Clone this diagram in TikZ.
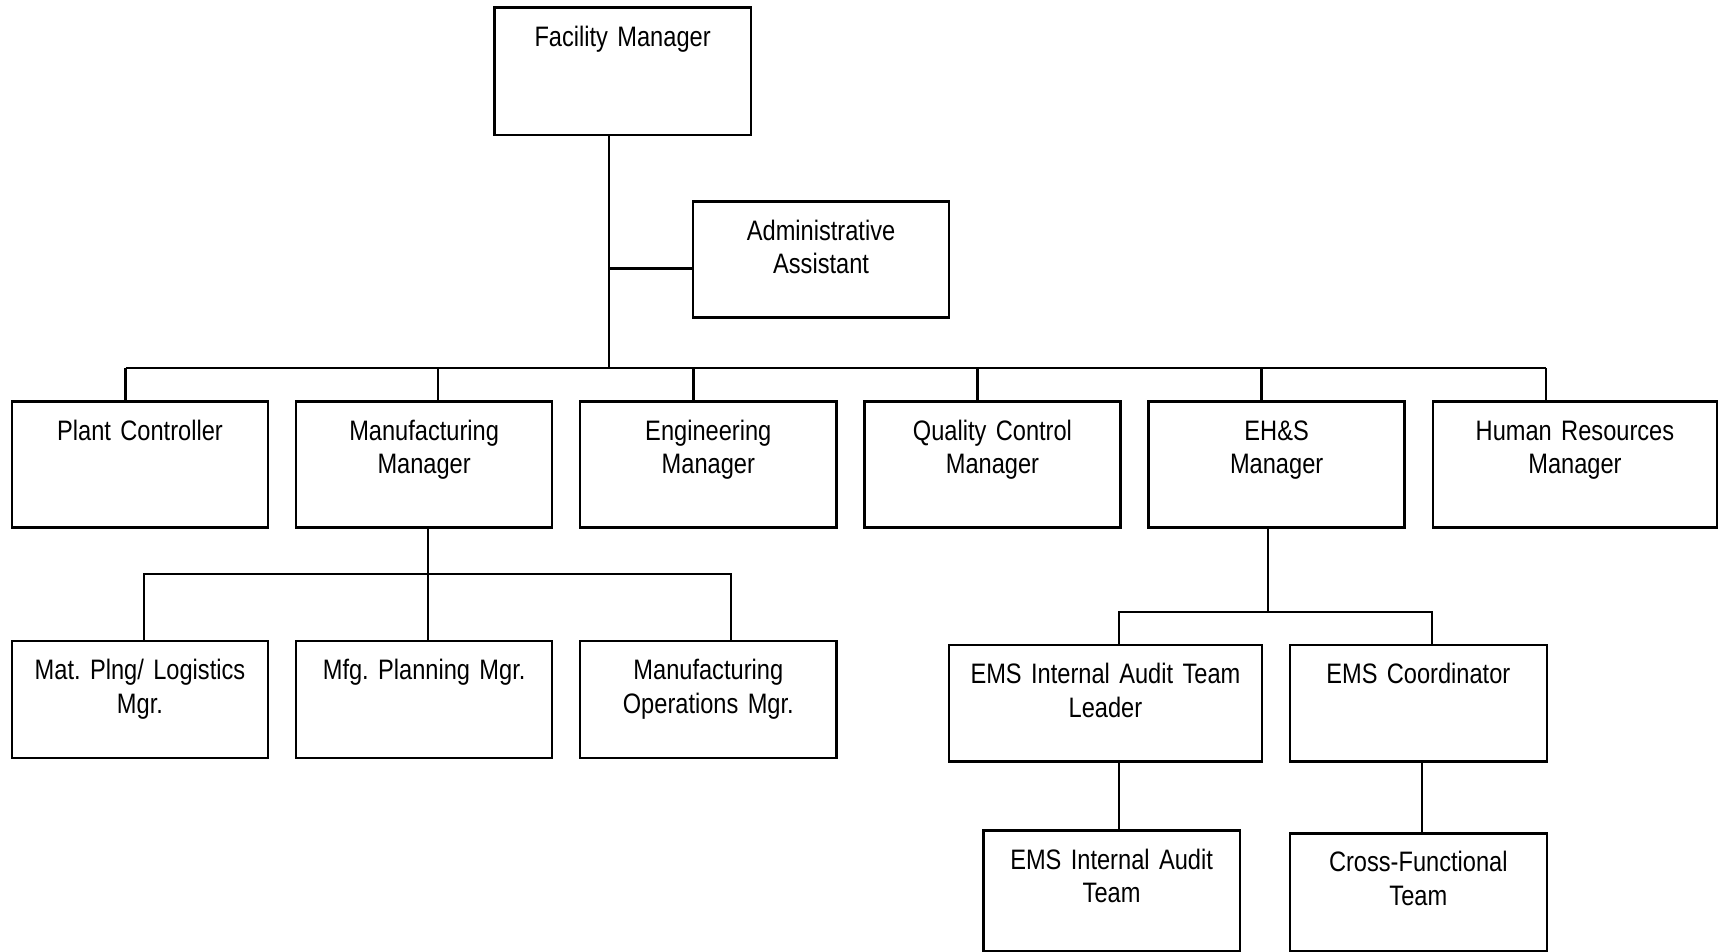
\documentclass[tikz,border=0pt]{standalone}
\usepackage{fontspec}
\setmainfont{Liberation Sans}[FakeStretch=0.84]
\usetikzlibrary{positioning}
\frenchspacing
\tikzset {
  chart path/.style = {
    draw = black,
    line width = 0.6pt
  },
  % plain connector between boxes
  link/.style = {
    chart path
  }
}
\tikzset {
  chart node/.style = {
    draw = black,
    line width = 0.7pt,
    rectangle,
    inner sep = 0,
    outer sep = 0,
    align = center,
    text height = 0.385cm,
    font = \fontsize{8pt}{9.6pt}\selectfont
  },
  % box of the manager row
  post/.style = {
    chart node,
    text width = 2.56cm,
    text depth = 0.871cm
  },
  % box below a manager
  subpost/.style = {
    chart node,
    text width = 2.56cm,
    text depth = 0.782cm
  },
  node distance = 0.28cm
}

\begin{document}
\begin{tikzpicture}[x=0.01cm, y=-0.01cm]
    \useasboundingbox (0,0) rectangle (1718,952);

    \node[chart node, text width=2.561cm, text depth=0.885cm, anchor=north west]
      (facility) at (494.5,7.7) {Facility Manager};
    \node[chart node, text width=2.56cm, text depth=0.774cm, anchor=north west]
      (admin) at (693,201.7) {Administrative\\Assistant};

    % manager row
    \node[post, anchor=north west] (plant) at (11.9,401.7) {Plant Controller};
    \node[post] (mfg) [right=of plant] {Manufacturing\\Manager};
    \node[post] (eng) [right=of mfg] {Engineering\\Manager};
    \node[post] (quality) [right=of eng] {Quality Control\\Manager};
    \node[post] (ehs) [right=of quality] {EH\&S\\Manager};
    \node[post, text width=2.843cm] (hr) [right=of ehs] {Human Resources\\Manager};

    % below manufacturing
    \node[subpost] (matplng) [below=1.136cm of plant] {Mat. Plng/ Logistics\\Mgr.};
    \node[subpost] (mfgplng) [below=1.136cm of mfg] {Mfg. Planning Mgr.};
    \node[subpost] (mfgops) [below=1.136cm of eng] {Manufacturing\\Operations Mgr.};

    % below EH&S
    \node[chart node, text width=3.127cm, text depth=0.778cm, anchor=north west]
      (leader) at (949,645) {EMS Internal Audit Team\\Leader};
    \node[chart node, text width=2.567cm, text depth=0.778cm]
      (coordinator) [right=of leader] {EMS Coordinator};
    \node[chart node, text width=2.564cm, text depth=0.82cm, anchor=north west]
      (auditteam) at (983.3,830.5) {EMS Internal Audit\\Team};
    \node[chart node, text width=2.567cm, text depth=0.792cm]
      (crossteam) [below=0.72cm of coordinator] {Cross-Functional\\Team};

    \coordinate (trunk) at (608.6,368);
    \coordinate (admin-in) at (608.6,268.5);
    \coordinate (bus west) at (125.5,368);
    \coordinate (bus east) at (1546,368);
    \coordinate (mfg-in) at (437.8,368);
    \coordinate (eng-in) at (693.5,368);
    \coordinate (quality-in) at (977.5,368);
    \coordinate (ehs-in) at (1261.5,368);

    \coordinate (mfg bus) at (428.2,574.3);
    \coordinate (mfg bus west) at (144.3,574.3);
    \coordinate (mfg bus east) at (731.4,574.3);

    \coordinate (ehs bus) at (1267.7,611.7);
    \coordinate (ehs bus west) at (1119.3,611.7);
    \coordinate (ehs bus east) at (1431.7,611.7);
    \coordinate (coordinator-out) at (1422.3,761.3);

    % main path
    \draw[link] (trunk |- facility.south) -- (trunk);
    \draw[link] (admin-in) -- (admin-in -| admin.west);
    \draw[link] (bus west) -- (bus east);

    \draw[link] (bus west) -- (bus west |- plant.north);
    \draw[link] (mfg-in) -- (mfg-in |- mfg.north);
    \draw[link] (eng-in) -- (eng-in |- eng.north);
    \draw[link] (quality-in) -- (quality-in |- quality.north);
    \draw[link] (ehs-in) -- (ehs-in |- ehs.north);
    \draw[link] (bus east) -- (bus east |- hr.north);

    % manufacturing branch
    \draw[link] (mfg bus |- mfg.south) -- (mfg bus);
    \draw[link] (mfg bus west |- matplng.north)
      -- (mfg bus west)
      -- (mfg bus east)
      -- (mfg bus east |- mfgops.north);
    \draw[link] (mfg bus) -- (mfg bus |- mfgplng.north);

    % EH&S branch
    \draw[link] (ehs bus |- ehs.south) -- (ehs bus);
    \draw[link] (ehs bus west |- leader.north)
      -- (ehs bus west)
      -- (ehs bus east)
      -- (ehs bus east |- coordinator.north);

    \draw[link] (ehs bus west |- leader.south) -- (ehs bus west |- auditteam.north);
    \draw[link] (coordinator-out) -- (coordinator-out |- crossteam.north);
\end{tikzpicture}
\end{document}
